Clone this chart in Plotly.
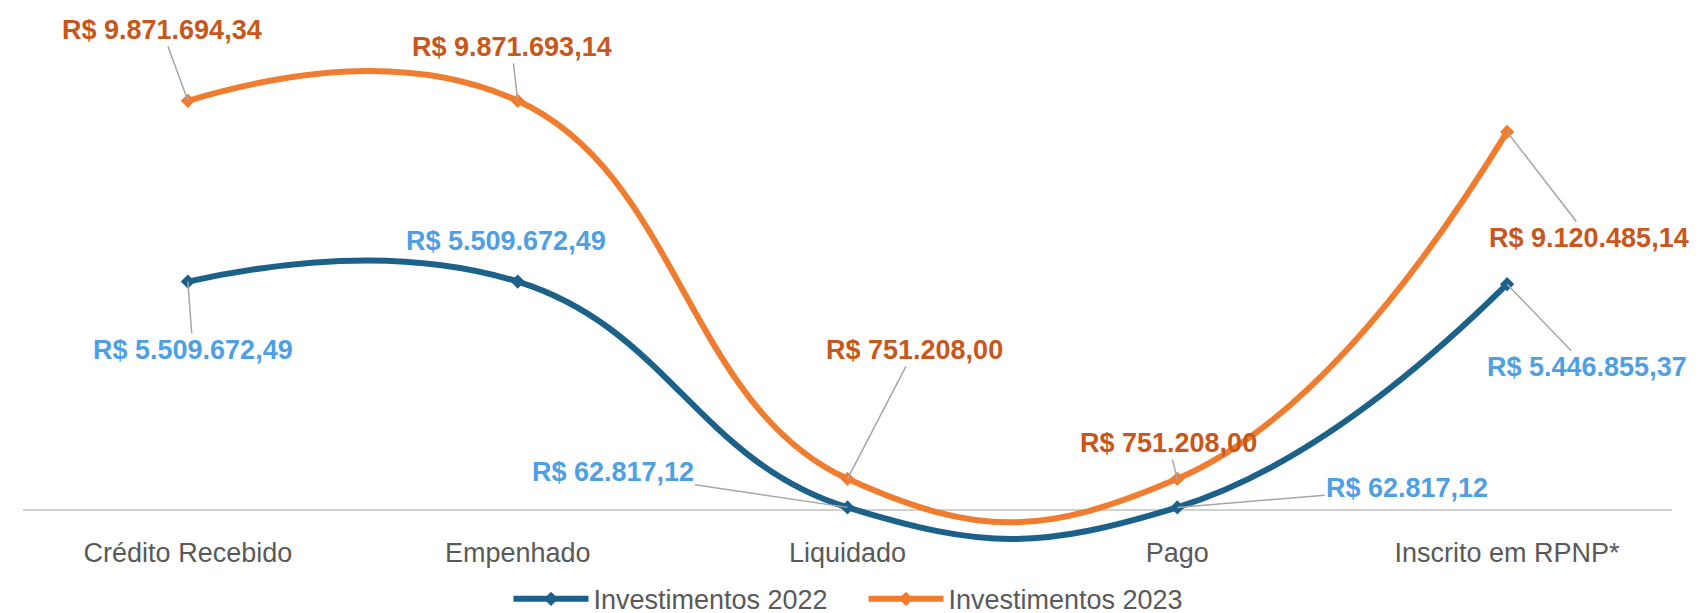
import plotly.graph_objects as go

categories = ["Crédito Recebido", "Empenhado", "Liquidado", "Pago", "Inscrito em RPNP*"]
inv_2022 = [5509672.49, 5509672.49, 62817.12, 62817.12, 5446855.37]
inv_2023 = [9871694.34, 9871693.14, 751208.00, 751208.00, 9120485.14]
series_names = ["Investimentos 2022", "Investimentos 2023"]

# label offsets (pixels) relative to each point
off_2022 = [(5, 68), (-12, -41), (-235, -35), (230, -19), (80, 83)]
arrow_2022 = [True, False, True, True, True]
off_2023 = [(-26, -71), (-6, -54), (67, -129), (-9, -36), (82, 106)]
arrow_2023 = [True, True, True, True, True]

C_BLUE = "#1B6189"
C_ORANGE = "#F07C2F"
C_BLUE_TXT = "#4E9FE3"
C_ORANGE_TXT = "#C9561A"
C_LEAD = "#A6A6A6"
FONT = "Liberation Sans, Arial, sans-serif"


def brl(v):
    s = f"{v:,.2f}"
    s = s.replace(",", "X").replace(".", ",").replace("X", ".")
    return "R$ " + s


fig = go.Figure()
for name, vals, col in [(series_names[0], inv_2022, C_BLUE), (series_names[1], inv_2023, C_ORANGE)]:
    fig.add_trace(go.Scatter(
        x=categories, y=vals, name=name, mode="lines+markers",
        line=dict(color=col, width=6, shape="spline", smoothing=1.3),
        marker=dict(symbol="diamond", size=11, color=col),
        hoverinfo="skip",
    ))

annotations = []
for vals, offs, arrows, tcol in [(inv_2022, off_2022, arrow_2022, C_BLUE_TXT),
                                 (inv_2023, off_2023, arrow_2023, C_ORANGE_TXT)]:
    for cat, v, (dx, dy), arr in zip(categories, vals, offs, arrows):
        a = dict(x=cat, y=v, xref="x", yref="y", text=brl(v),
                 font=dict(family=FONT, size=27, color=tcol, weight="bold"))
        if arr:
            a.update(showarrow=True, ax=dx, ay=dy, arrowhead=0, arrowwidth=1.5,
                     arrowcolor=C_LEAD, standoff=0)
        else:
            a.update(showarrow=False, xshift=dx, yshift=-dy)
        annotations.append(a)

fig.update_layout(
    width=1699, height=613,
    margin=dict(l=15, r=35, t=5, b=75, autoexpand=False),
    paper_bgcolor="white", plot_bgcolor="white",
    showlegend=True,
    legend=dict(orientation="h", x=0.5097, xanchor="center", y=-0.100, yanchor="middle",
                font=dict(family=FONT, size=27, color="#595959"),
                itemwidth=75, entrywidth=265, entrywidthmode="pixels",
                bgcolor="rgba(0,0,0,0)"),
    xaxis=dict(type="category", range=[-0.5, 4.5], showgrid=False, showline=False,
               ticks="", tickfont=dict(family=FONT, size=27, color="#595959"),
               ticklabelstandoff=-12, zeroline=False),
    yaxis=dict(range=[-0.869e6, 11.99e6], showgrid=False, showticklabels=False,
               zeroline=True, zerolinecolor="#D0D0D0", zerolinewidth=1.5, showline=False),
    annotations=annotations,
)

fig.write_html("out.html")
